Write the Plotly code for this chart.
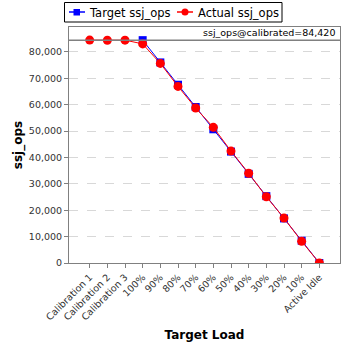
import plotly.graph_objects as go

categories = ["Calibration 1", "Calibration 2", "Calibration 3", "100%", "90%", "80%",
              "70%", "60%", "50%", "40%", "30%", "20%", "10%", "Active Idle"]
target_ops = [None, None, None, 84420, 75978, 67536, 59094, 50652, 42210, 33768,
              25326, 16884, 8442, 0]
actual_ops = [84450, 84400, 84420, 83000, 75600, 66900, 58700, 51400, 42400, 34000,
              25100, 17000, 8200, 0]
calibrated = 84420
y_ticks = [0, 10000, 20000, 30000, 40000, 50000, 60000, 70000, 80000]
series_names = ["Target ssj_ops", "Actual ssj_ops"]
series_colors = ["#0000ff", "#ff0000"]

W, H = 348, 348
ML, MR, MT, MB = 69, 8, 27, 85
PW, PH = W - ML - MR, H - MT - MB


def px(x):
    return (x - ML) / PW


def py(y):
    return (H - MB - y) / PH


font = "DejaVu Sans"
fig = go.Figure()
fig.add_trace(go.Scatter(
    x=categories, y=target_ops, name=series_names[0], mode="lines+markers",
    line=dict(color=series_colors[0], width=1),
    marker=dict(symbol="square", size=8, color=series_colors[0]),
))
fig.add_trace(go.Scatter(
    x=categories, y=actual_ops, name=series_names[1], mode="lines+markers",
    line=dict(color=series_colors[1], width=1),
    marker=dict(symbol="circle", size=9, color=series_colors[1]),
))
fig.add_shape(type="line", xref="paper", yref="y", x0=0, x1=1, y0=calibrated, y1=calibrated,
              line=dict(color="#808080", width=1.5))
fig.add_annotation(xref="paper", yref="y", x=0.99, y=calibrated, xanchor="right", yanchor="bottom",
                   text=f"ssj_ops@calibrated={calibrated:,}", showarrow=False, yshift=0,
                   font=dict(family=font, size=9.5, color="#000000"))

# manual legend box (JFreeChart style)
fig.add_shape(type="rect", xref="paper", yref="paper", x0=px(64.5), x1=px(282), y0=py(2.5), y1=py(22),
              line=dict(color="#000000", width=1), fillcolor="white")
# Target entry
fig.add_shape(type="line", xref="paper", yref="paper", x0=px(69), x1=px(85), y0=py(12), y1=py(12),
              line=dict(color=series_colors[0], width=1.5))
fig.add_shape(type="rect", xref="paper", yref="paper", x0=px(73.5), x1=px(80), y0=py(9), y1=py(15.5),
              line=dict(color=series_colors[0], width=0), fillcolor=series_colors[0])
fig.add_annotation(xref="paper", yref="paper", x=px(87), y=py(12.5), xanchor="left", yanchor="middle",
                   text=series_names[0], showarrow=False,
                   font=dict(family=font, size=11.5, color="#000000"))
# Actual entry
fig.add_shape(type="line", xref="paper", yref="paper", x0=px(177), x1=px(193), y0=py(12), y1=py(12),
              line=dict(color=series_colors[1], width=1.5))
fig.add_shape(type="circle", xref="paper", yref="paper", x0=px(181.5), x1=px(188.5), y0=py(8.5), y1=py(15.5),
              line=dict(color=series_colors[1], width=0), fillcolor=series_colors[1])
fig.add_annotation(xref="paper", yref="paper", x=px(196), y=py(12.5), xanchor="left", yanchor="middle",
                   text=series_names[1], showarrow=False,
                   font=dict(family=font, size=11.5, color="#000000"))

fig.update_layout(
    width=W, height=H,
    margin=dict(l=ML, r=MR, t=MT, b=MB, autoexpand=False),
    paper_bgcolor="white", plot_bgcolor="white",
    font=dict(family=font, size=9, color="#333333"),
    showlegend=False,
    xaxis=dict(
        type="category", range=[-1.17, 14.17], tickangle=-45, showline=True, mirror=True,
        linecolor="#808080", ticks="outside", ticklen=4, tickcolor="#808080", showgrid=False,
        automargin=False,
        tickfont=dict(family=font, size=9.5, color="#333333"),
        title=dict(text="<b>Target Load</b>", font=dict(family=font, size=12, color="#000000"), standoff=9),
    ),
    yaxis=dict(
        range=[0, 89400], tickvals=y_ticks, tickformat=",d", showline=True, mirror=True,
        linecolor="#808080", ticks="outside", ticklen=4, tickcolor="#808080", automargin=False,
        showgrid=True, gridcolor="#d8d8d8", griddash="dash", zeroline=False,
        tickfont=dict(family=font, size=9.5, color="#333333"),
        title=dict(text="<b>ssj_ops</b>", font=dict(family=font, size=12, color="#000000"), standoff=3),
    ),
)
fig.write_html("out.html")
